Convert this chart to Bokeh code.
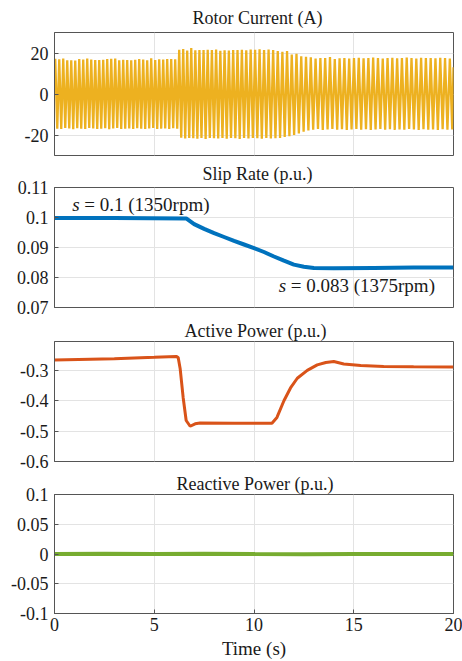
import numpy as np
from bokeh.plotting import figure
from bokeh.layouts import column
from bokeh.models import Range1d, FixedTicker, NumeralTickFormatter, Title, LinearAxis
from bokeh.embed import file_html
from bokeh.resources import INLINE
from bokeh.core.properties import value

# ---------------- data ----------------
time_ticks = [0, 5, 10, 15, 20]

slip_t = [0.0, 3.0, 6.6, 7.0, 7.5, 8.0, 8.5, 9.0, 9.5, 10.0, 10.5, 11.0, 11.5, 12.0, 12.5, 13.0, 14.0, 16.0, 18.0, 20.0]
slip_s = [0.0998, 0.0998, 0.0997, 0.0978, 0.0962, 0.0948, 0.0935, 0.0922, 0.0910, 0.0898, 0.0885, 0.0870, 0.0856, 0.0843, 0.0836, 0.0832, 0.0831, 0.0832, 0.0833, 0.0833]

power_t = [0.0, 3.0, 5.0, 6.1, 6.2, 6.3, 6.45, 6.6, 6.8, 7.05, 7.3, 9.0, 10.9, 11.15, 11.5, 11.83, 12.17, 12.67, 13.17, 13.6, 14.0, 14.5, 15.35, 16.5, 18.0, 20.0]
power_p = [-0.266, -0.262, -0.257, -0.254, -0.258, -0.295, -0.390, -0.465, -0.484, -0.476, -0.473, -0.474, -0.474, -0.455, -0.400, -0.358, -0.326, -0.300, -0.282, -0.274, -0.271, -0.279, -0.284, -0.287, -0.288, -0.289]

reactive_t = [0.0, 2.5, 5.0, 7.5, 10.0, 12.5, 15.0, 17.5, 20.0]
reactive_q = [0.0, 0.0003, -0.0002, 0.0004, 0.0, -0.0003, 0.0002, -0.0001, 0.0]

current_hi = [17.2, 16.9, 17.3, 16.4, 16.5, 16.3, 17.0, 16.8, 17.3, 16.8, 16.6, 16.6, 16.7, 17.0, 17.2, 17.3,
              16.5, 16.7, 16.6, 16.5, 16.7, 17.1, 16.8, 16.5, 17.4, 16.6, 16.9, 16.8, 17.0, 17.1, 16.9,
              21.6, 21.9, 21.2, 22.4, 21.3, 21.5, 21.4, 21.6, 21.5, 21.7, 21.1, 21.3, 21.2, 21.4, 21.5, 21.6,
              21.3, 21.7, 21.6, 21.8, 21.5, 21.7, 21.4,
              21.0, 20.6, 20.9, 19.3, 19.6, 18.4, 18.1,
              17.9, 17.3, 17.6, 17.5, 18.0, 17.1, 17.4, 17.6, 17.3, 17.5, 17.7, 17.4, 17.6, 17.8, 17.5, 17.3,
              17.6, 17.7, 17.4, 17.5, 17.8, 17.6, 17.3, 17.7, 17.5, 17.6, 17.4, 17.7, 17.5, 17.3, 17.6]
current_lo = [-16.9, -17.1, -16.6, -16.8, -17.2, -16.7, -16.9, -17.0, -16.6, -16.8, -17.1, -16.9, -16.7, -17.2, -16.8, -16.6,
              -17.0, -16.9, -16.8, -17.1, -16.7, -16.9, -17.0, -16.8, -16.6, -17.1, -16.9, -16.8, -17.0, -16.7, -16.9,
              -21.3, -21.7, -21.5, -21.6, -21.8, -21.4, -21.9, -21.5, -21.6, -21.7, -21.4, -21.8, -21.5, -21.6, -21.9, -21.5,
              -21.7, -21.4, -21.6, -21.8, -21.5, -21.7, -21.6,
              -21.4, -21.0, -20.6, -20.0, -19.2, -18.4, -17.8,
              -17.4, -17.1, -17.5, -17.3, -17.0, -17.4, -17.2, -17.5, -17.3, -17.1, -17.4, -17.2, -17.6, -17.3, -17.1, -17.4,
              -17.2, -17.5, -17.3, -17.4, -17.1, -17.3, -17.5, -17.2, -17.4, -17.3, -17.6, -17.2, -17.4, -17.3, -17.5]
current_start = 6.5
current_end = 13.0
grid_freq_hz = 50.0

# ---------------- styling ----------------
FONT = "Liberation Serif"
TXT = "#1a1a1a"
FRAME = "#555555"
GRID = "#e3e3e3"
C_YEL = "#EDB120"
C_BLU = "#0072BD"
C_ORA = "#D95319"
C_GRN = "#77AC30"
W = 462


def axis_style(ticks, fmt, standoff):
    return dict(ticker=FixedTicker(ticks=ticks), formatter=NumeralTickFormatter(format=fmt),
                major_label_text_font=FONT, major_label_text_font_size="18px",
                major_label_text_font_style="normal", major_label_text_color=TXT,
                major_label_standoff=standoff, major_tick_in=4, major_tick_out=0,
                minor_tick_line_color=None, axis_line_color=FRAME, major_tick_line_color=FRAME)


def make_fig(height, top, bottom, yr, yticks, title, title_offset, title_standoff, show_x=False):
    p = figure(width=W, height=height, output_backend="svg", toolbar_location=None,
               x_range=Range1d(0, 20), y_range=Range1d(*yr),
               x_axis_type=None, y_axis_type=None,
               min_border_left=54, min_border_right=9,
               min_border_top=top, min_border_bottom=bottom)
    p.title = Title(text=title, align="left", offset=title_offset, standoff=title_standoff,
                    text_font=FONT, text_font_size="18px", text_font_style="normal",
                    text_color=TXT)
    p.outline_line_color = FRAME
    p.outline_line_alpha = 1.0
    p.background_fill_color = "white"
    p.border_fill_color = "white"

    yax = LinearAxis(**axis_style(yticks, "0.[00]", 6))
    p.add_layout(yax, "left")
    if show_x:
        xax = LinearAxis(**axis_style(time_ticks, "0", 4))
        p.add_layout(xax, "below")
    from bokeh.models import Grid
    p.add_layout(Grid(dimension=0, ticker=FixedTicker(ticks=time_ticks), grid_line_color=GRID))
    p.add_layout(Grid(dimension=1, ticker=FixedTicker(ticks=yticks), grid_line_color=GRID))
    return p


# ---------- Rotor current ----------
p1 = make_fig(157, 32, 2, (-30, 30), [-20, 0, 20], "Rotor Current (A)", 138, 9)
tg = np.linspace(0, 20, 8001)
sg = np.interp(tg, slip_t, slip_s)
phi = np.concatenate([[0.0], np.cumsum(0.5 * (sg[1:] + sg[:-1]) * np.diff(tg))]) * grid_freq_hz
phi0 = 0.064
ncyc = min(len(current_hi), len(current_lo))
cx = [0.0]
cy = [current_start]
for k in range(ncyc):
    for frac, amp in ((0.25, current_hi[k]), (0.75, current_lo[k])):
        target = k + frac - phi0
        if 0 < target < phi[-1]:
            cx.append(float(np.interp(target, phi, tg)))
            cy.append(amp)
cx.append(20.0)
cy.append(current_end)
p1.line(cx, cy, line_color=C_YEL, line_width=2.3)

# ---------- Slip rate ----------
p2 = make_fig(160, 28, 10, (0.07, 0.11), [0.07, 0.08, 0.09, 0.1, 0.11], "Slip Rate (p.u.)", 148, 8)
p2.line(slip_t, slip_s, line_color=C_BLU, line_width=4)
ann_x = [0.89, 11.24]
ann_y = [0.1044, 0.0775]
ann_txt = ["= 0.1 (1350rpm)", "= 0.083 (1375rpm)"]
p2.text(x=ann_x, y=ann_y, text=["s", "s"], text_font=value(FONT), text_font_style="italic",
        text_font_size="19px", text_color=TXT, text_baseline="middle", text_align="left")
p2.text(x=ann_x, y=ann_y, text=ann_txt, x_offset=12, text_font=value(FONT),
        text_font_size="19px", text_color=TXT, text_baseline="middle", text_align="left")

# ---------- Active power ----------
p3 = make_fig(154, 22, 10, (-0.6, -0.205), [-0.6, -0.5, -0.4, -0.3], "Active Power (p.u.)", 130, 2)
p3.line(power_t, power_p, line_color=C_ORA, line_width=3)

# ---------- Reactive power ----------
p4 = make_fig(190, 21, 47, (-0.1, 0.1), [-0.1, -0.05, 0, 0.05, 0.1], "Reactive Power (p.u.)", 122, 1, show_x=True)
p4.line(reactive_t, reactive_q, line_color=C_GRN, line_width=4)
p4.xaxis.axis_label = "Time (s)"
p4.xaxis.axis_label_text_font = FONT
p4.xaxis.axis_label_text_font_size = "19px"
p4.xaxis.axis_label_text_font_style = "normal"
p4.xaxis.axis_label_text_color = TXT
p4.xaxis.axis_label_standoff = 4

layout = column(p1, p2, p3, p4, spacing=0)
open("out.html", "w").write(file_html(layout, INLINE))
